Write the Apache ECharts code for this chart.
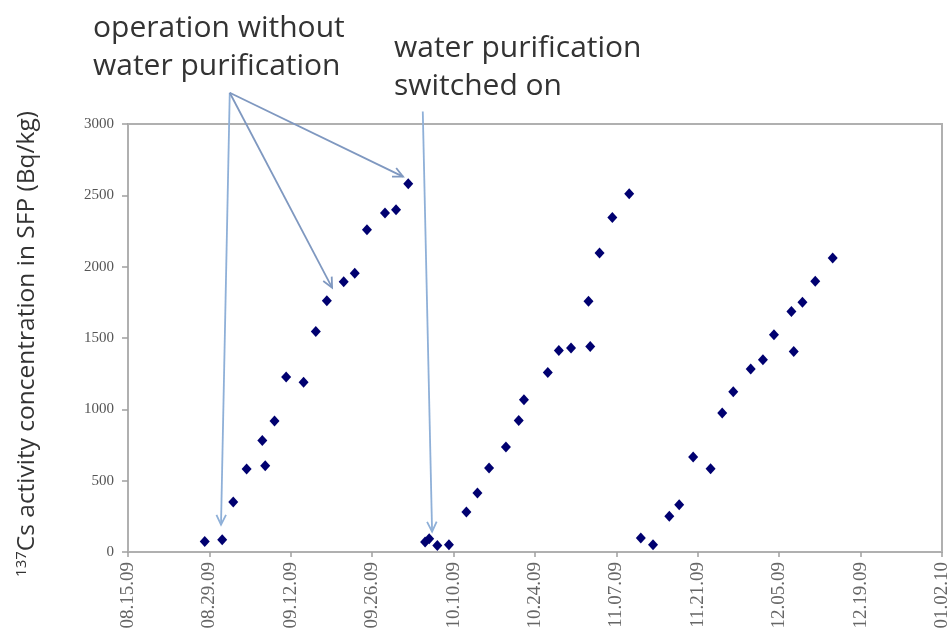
<!DOCTYPE html>
<html>
<head>
<meta charset="utf-8">
<script src="https://cdn.jsdelivr.net/npm/echarts@6/dist/echarts.min.js"></script>
<style>html,body{margin:0;padding:0;background:#fff}#c{width:948px;height:637px}</style>
</head>
<body>
<div id="c"></div>
<script>
// x tick labels (every 14 days, starting 08.15.09)
const xTickLabels = ['08.15.09','08.29.09','09.12.09','09.26.09','10.10.09','10.24.09','11.07.09','11.21.09','12.05.09','12.19.09','01.02.10'];
// days since 08.15.09
const daysSince = [13.2,16.2,18.1,20.4,23.1,23.6,25.2,27.2,30.2,32.3,34.2,37.1,39.0,41.1,44.2,46.1,48.2,
  51.1,51.8,53.2,55.2,58.2,60.1,62.1,65.0,67.2,68.1,72.2,74.1,76.2,79.2,79.5,81.1,83.3,86.2,
  88.2,90.3,93.1,94.8,97.2,100.2,102.2,104.1,107.1,109.2,111.1,114.1,114.5,116.0,118.2,121.2];
// 137Cs activity concentration (Bq/kg)
const cs137 = [74,86,350,582,782,605,918,1227,1189,1546,1761,1895,1953,2259,2376,2399,2581,
  70,93,46,51,280,413,589,736,922,1067,1259,1413,1430,1757,1441,2096,2345,2511,
  98,51,250,332,666,584,974,1124,1283,1348,1523,1686,1406,1750,1897,2061];
// annotation arrows: [fromDay, fromValue, toDay, toValue]
const arrows = [
  [17.5,3219,16.0,191],
  [17.5,3219,35.1,1853],
  [17.5,3219,47.3,2631],
  [50.7,3087,52.3,142]
];

const chart = echarts.init(document.getElementById('c'));
const serif = '"Liberation Serif","DejaVu Serif",serif';
const sans = '"Open Sans","Noto Sans",sans-serif';
chart.setOption({
  animation:false,
  grid:{left:128,right:6,top:124,bottom:85,outerBoundsMode:'none',containLabel:false,show:true,borderColor:'#b0b0b0',borderWidth:2,backgroundColor:'transparent'},
  xAxis:{type:'value',min:0,max:140,interval:14,
    axisLine:{lineStyle:{color:'#b0b0b0',width:2}},
    axisTick:{show:true,length:5,lineStyle:{color:'#a0a0a0',width:1.5}},
    splitLine:{show:false},
    axisLabel:{rotate:90,margin:10,fontFamily:serif,fontSize:19,color:'#666',hideOverlap:false,
      formatter:function(v){return xTickLabels[Math.round(v/14)]||'';}}
  },
  yAxis:{type:'value',min:0,max:3000,interval:500,
    axisLine:{show:true,lineStyle:{color:'#b0b0b0',width:2}},
    axisTick:{show:true,length:6,lineStyle:{color:'#a0a0a0',width:1.5}},
    splitLine:{show:false},
    axisLabel:{margin:14,fontFamily:serif,fontSize:15,color:'#555',formatter:function(v){return String(v);}}
  },
  series:[{type:'scatter',symbol:'diamond',symbolSize:[10,11],
    itemStyle:{color:'#000070',opacity:1},
    data:daysSince.map((d,i)=>[d,cs137[i]])}]
});

function px(d,v){return chart.convertToPixel({gridIndex:0},[d,v]);}
const g = [];
const arrowColors = ['#8fb0d8','#7f98c0','#7f98c0','#8fb0d8'];
arrows.forEach((a,i)=>{
  const p0 = px(a[0],a[1]), p1 = px(a[2],a[3]);
  const ang = Math.atan2(p1[1]-p0[1],p1[0]-p0[0]);
  const L = 11, w = 0.45;
  const h1 = [p1[0]-L*Math.cos(ang-w), p1[1]-L*Math.sin(ang-w)];
  const h2 = [p1[0]-L*Math.cos(ang+w), p1[1]-L*Math.sin(ang+w)];
  g.push({type:'line',z:50,shape:{x1:p0[0],y1:p0[1],x2:p1[0],y2:p1[1]},style:{stroke:arrowColors[i],lineWidth:1.8}});
  g.push({type:'polyline',z:50,shape:{points:[h1,p1,h2]},style:{stroke:arrowColors[i],lineWidth:1.8,fill:null}});
});
g.push({type:'text',left:93,top:9,style:{text:'operation without\nwater purification',font:'30px '+sans,fill:'#333',lineHeight:38}});
g.push({type:'text',left:394,top:29,style:{text:'water purification\nswitched on',font:'30px '+sans,fill:'#333',lineHeight:38}});
g.push({type:'text',x:27,y:344,rotation:Math.PI/2,style:{
  text:'{sup|137}{n|Cs activity concentration in SFP (Bq/kg)}',
  align:'center',verticalAlign:'middle',
  rich:{sup:{fontFamily:sans,fontSize:15,fill:'#333',verticalAlign:'top',padding:[0,0,10,0]},n:{fontFamily:sans,fontSize:24.5,fill:'#333'}}
}});
chart.setOption({graphic:g});
</script>
</body>
</html>
